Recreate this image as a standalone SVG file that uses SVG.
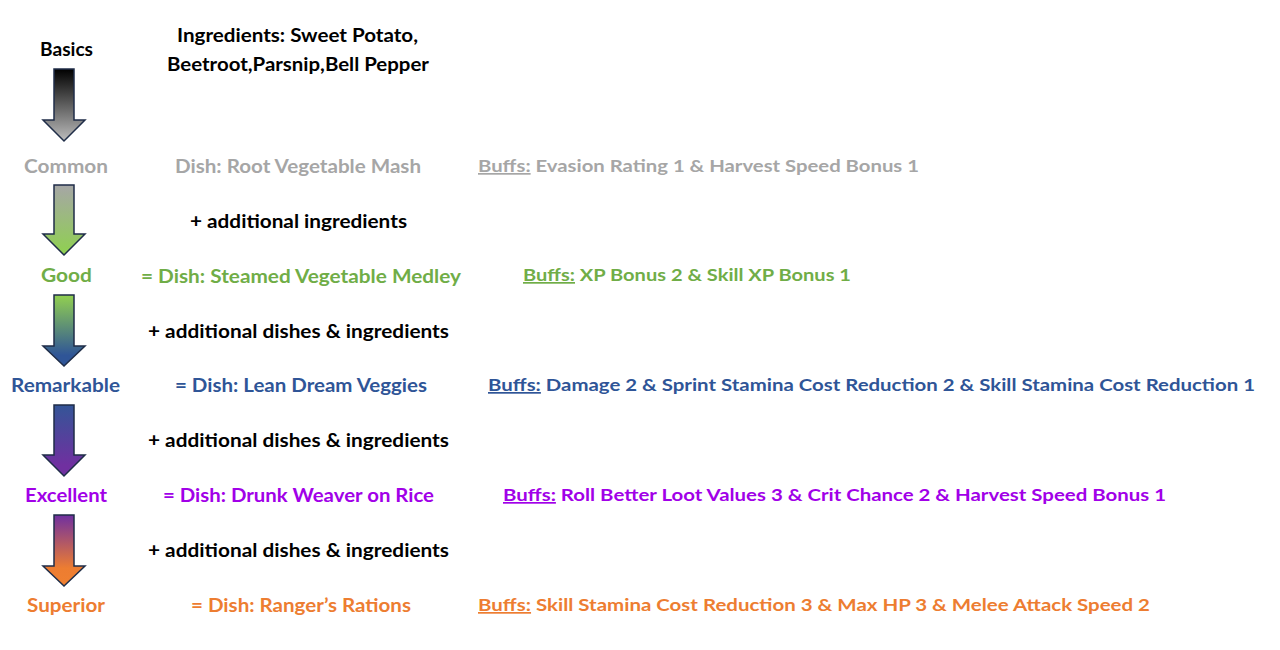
<svg xmlns="http://www.w3.org/2000/svg" width="1280" height="650" viewBox="0 0 1280 650">
<defs>
<linearGradient id="g1" x1="0" y1="0" x2="0" y2="1"><stop offset="0" stop-color="#000000"/><stop offset="1" stop-color="#bdbdbd"/></linearGradient>
<linearGradient id="g2" x1="0" y1="0" x2="0" y2="1"><stop offset="0" stop-color="#a6a6a6"/><stop offset="1" stop-color="#8fd14f"/></linearGradient>
<linearGradient id="g3" x1="0" y1="0" x2="0" y2="1"><stop offset="0" stop-color="#92d050"/><stop offset="0.85" stop-color="#2f5597"/><stop offset="1" stop-color="#2f5597"/></linearGradient>
<linearGradient id="g4" x1="0" y1="0" x2="0" y2="1"><stop offset="0" stop-color="#345597"/><stop offset="0.85" stop-color="#7030a0"/><stop offset="1" stop-color="#7030a0"/></linearGradient>
<linearGradient id="g5" x1="0" y1="0" x2="0" y2="1"><stop offset="0" stop-color="#7030a0"/><stop offset="0.75" stop-color="#ed7d31"/><stop offset="1" stop-color="#f08030"/></linearGradient>
</defs>
<style>
text{font-family:Lato,"Liberation Sans",sans-serif;font-weight:bold;font-size:18px}
.buff{font-size:17px}
.u{text-decoration:underline}
.arrow{stroke:#1f2d48;stroke-width:1.5;stroke-linejoin:miter}
.k{fill:#000000}.c{fill:#a6a6a6}.g{fill:#70ad47}.r{fill:#2f5597}.e{fill:#a100e8}.s{fill:#ed7d31}
</style>
<rect width="1280" height="650" fill="#ffffff"/>
<g id="connectors">
<path class="arrow" fill="url(#g1)" d="M54,69 H74 V120 H85 L64,141 L43,120 H54 Z"/>
<path class="arrow" fill="url(#g2)" d="M54,185 H74 V234 H85 L64,255 L43,234 H54 Z"/>
<path class="arrow" fill="url(#g3)" d="M54,295 H74 V346 H85 L64,366 L43,346 H54 Z"/>
<path class="arrow" fill="url(#g4)" d="M54,405 H74 V455 H85 L64,476 L43,455 H54 Z"/>
<path class="arrow" fill="url(#g5)" d="M54,515 H74 V566 H85 L64,586 L43,566 H54 Z"/>
</g>
<g id="basics">
<text class="k" x="40" y="56" textLength="53" lengthAdjust="spacingAndGlyphs">Basics</text>
<text class="k" x="177" y="42" textLength="241" lengthAdjust="spacingAndGlyphs">Ingredients: Sweet Potato,</text>
<text class="k" x="167" y="71" textLength="262" lengthAdjust="spacingAndGlyphs">Beetroot,Parsnip,Bell Pepper</text>
</g>
<g id="common">
<text class="c" x="24" y="173" textLength="84" lengthAdjust="spacingAndGlyphs">Common</text>
<text class="c" x="175" y="173" textLength="246" lengthAdjust="spacingAndGlyphs">Dish: Root Vegetable Mash</text>
<text class="c buff" x="478" y="172" textLength="441" lengthAdjust="spacingAndGlyphs"><tspan class="u">Buffs:</tspan> Evasion Rating 1 &amp; Harvest Speed Bonus 1</text>
</g>
<g id="step1">
<text class="k" x="190" y="228" textLength="217" lengthAdjust="spacingAndGlyphs">+ additional ingredients</text>
</g>
<g id="good">
<text class="g" x="41" y="282" textLength="51" lengthAdjust="spacingAndGlyphs">Good</text>
<text class="g" x="141" y="283" textLength="320" lengthAdjust="spacingAndGlyphs">= Dish: Steamed Vegetable Medley</text>
<text class="g buff" x="523" y="281" textLength="328" lengthAdjust="spacingAndGlyphs"><tspan class="u">Buffs:</tspan> XP Bonus 2 &amp; Skill XP Bonus 1</text>
</g>
<g id="step2">
<text class="k" x="148" y="338" textLength="301" lengthAdjust="spacingAndGlyphs">+ additional dishes &amp; ingredients</text>
</g>
<g id="remarkable">
<text class="r" x="11" y="392" textLength="109" lengthAdjust="spacingAndGlyphs">Remarkable</text>
<text class="r" x="175" y="392" textLength="252" lengthAdjust="spacingAndGlyphs">= Dish: Lean Dream Veggies</text>
<text class="r buff" x="488" y="391" textLength="767" lengthAdjust="spacingAndGlyphs"><tspan class="u">Buffs:</tspan> Damage 2 &amp; Sprint Stamina Cost Reduction 2 &amp; Skill Stamina Cost Reduction 1</text>
</g>
<g id="step3">
<text class="k" x="148" y="447" textLength="301" lengthAdjust="spacingAndGlyphs">+ additional dishes &amp; ingredients</text>
</g>
<g id="excellent">
<text class="e" x="25" y="502" textLength="82" lengthAdjust="spacingAndGlyphs">Excellent</text>
<text class="e" x="163" y="502" textLength="271" lengthAdjust="spacingAndGlyphs">= Dish: Drunk Weaver on Rice</text>
<text class="e buff" x="503" y="501" textLength="663" lengthAdjust="spacingAndGlyphs"><tspan class="u">Buffs:</tspan> Roll Better Loot Values 3 &amp; Crit Chance 2 &amp; Harvest Speed Bonus 1</text>
</g>
<g id="step4">
<text class="k" x="148" y="557" textLength="301" lengthAdjust="spacingAndGlyphs">+ additional dishes &amp; ingredients</text>
</g>
<g id="superior">
<text class="s" x="27" y="612" textLength="78" lengthAdjust="spacingAndGlyphs">Superior</text>
<text class="s" x="191" y="612" textLength="220" lengthAdjust="spacingAndGlyphs">= Dish: Ranger’s Rations</text>
<text class="s buff" x="478" y="611" textLength="672" lengthAdjust="spacingAndGlyphs"><tspan class="u">Buffs:</tspan> Skill Stamina Cost Reduction 3 &amp; Max HP 3 &amp; Melee Attack Speed 2</text>
</g>
</svg>
